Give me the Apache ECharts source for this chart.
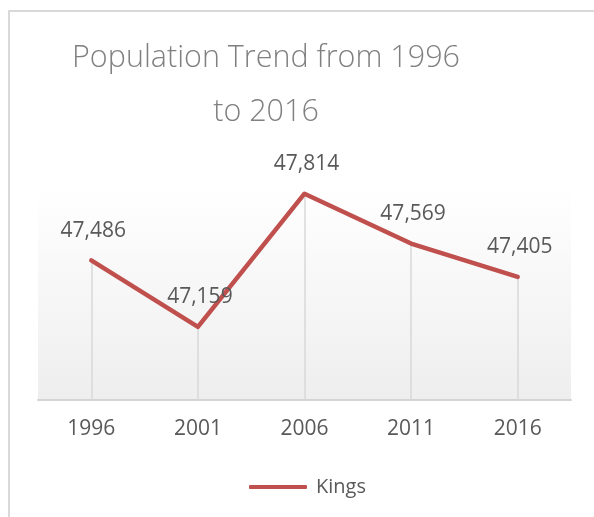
<!DOCTYPE html>
<html>
<head>
<meta charset="utf-8">
<script src="https://cdn.jsdelivr.net/npm/echarts@6/dist/echarts.min.js"></script>
<style>
html,body{margin:0;padding:0;background:#fff;}
#chart{width:594px;height:517px;}
</style>
</head>
<body>
<div id="chart"></div>
<script>
const categories = ['1996', '2001', '2006', '2011', '2016'];
const kings = [47486, 47159, 47814, 47569, 47405];
const seriesName = 'Kings';
const titleText = 'Population Trend from 1996\nto 2016';
const yMin = 46800;
const yMax = 47847;

const fontFamily = "'Open Sans', 'Liberation Sans', sans-serif";
const chart = echarts.init(document.getElementById('chart'), null, {renderer: 'canvas'});

const dropLines = categories.map((c, i) => [
  {xAxis: c, yAxis: kings[i]},
  {xAxis: c, yAxis: yMin}
]);

chart.setOption({
  backgroundColor: '#ffffff',
  animation: false,
  title: {
    text: titleText,
    left: 261,
    top: 26,
    textAlign: 'center',
    textStyle: {
      fontFamily: fontFamily,
      fontWeight: 300,
      fontSize: 30.5,
      lineHeight: 54,
      color: '#808080'
    }
  },
  graphic: [{
    type: 'rect',
    shape: {x: 9, y: 11, width: 700, height: 600},
    style: {fill: 'none', stroke: '#d9d9d9', lineWidth: 2},
    silent: true,
    z: -1
  }],
  legend: {
    data: [seriesName],
    left: 244,
    top: 472,
    icon: 'roundRect',
    itemWidth: 58,
    itemHeight: 4,
    textStyle: {
      fontFamily: fontFamily,
      fontSize: 20,
      color: '#595959',
      padding: [0, 0, 0, 4]
    }
  },
  grid: {
    left: 38,
    right: 23,
    top: 187,
    bottom: 117,
    show: true,
    borderWidth: 0,
    backgroundColor: {
      type: 'linear', x: 0, y: 0, x2: 0, y2: 1,
      colorStops: [{offset: 0, color: '#ffffff'}, {offset: 1, color: '#eeeeee'}]
    }
  },
  xAxis: {
    type: 'category',
    data: categories,
    boundaryGap: true,
    axisLine: {show: true, lineStyle: {color: '#d4d4d4', width: 2}},
    axisTick: {show: false},
    axisLabel: {
      fontFamily: fontFamily,
      fontSize: 21,
      color: '#595959',
      margin: 19
    },
    splitLine: {show: false}
  },
  yAxis: {
    type: 'value',
    min: yMin,
    max: yMax,
    show: false,
    splitLine: {show: false}
  },
  series: [{
    name: seriesName,
    type: 'line',
    data: kings,
    symbol: 'circle',
    symbolSize: 0.01,
    showSymbol: true,
    lineStyle: {color: '#c0504d', width: 4.5, cap: 'round', join: 'round'},
    itemStyle: {color: '#c0504d'},
    label: {
      show: true,
      position: 'top',
      distance: 19,
      offset: [2, 0],
      fontFamily: fontFamily,
      fontSize: 21,
      color: '#595959',
      formatter: p => p.value.toLocaleString('en-US')
    },
    markLine: {
      silent: true,
      symbol: ['none', 'none'],
      label: {show: false},
      lineStyle: {color: '#d9d9d9', width: 1.5, type: 'solid'},
      data: dropLines,
      z: 1
    },
    z: 3
  }]
});
</script>
</body>
</html>
